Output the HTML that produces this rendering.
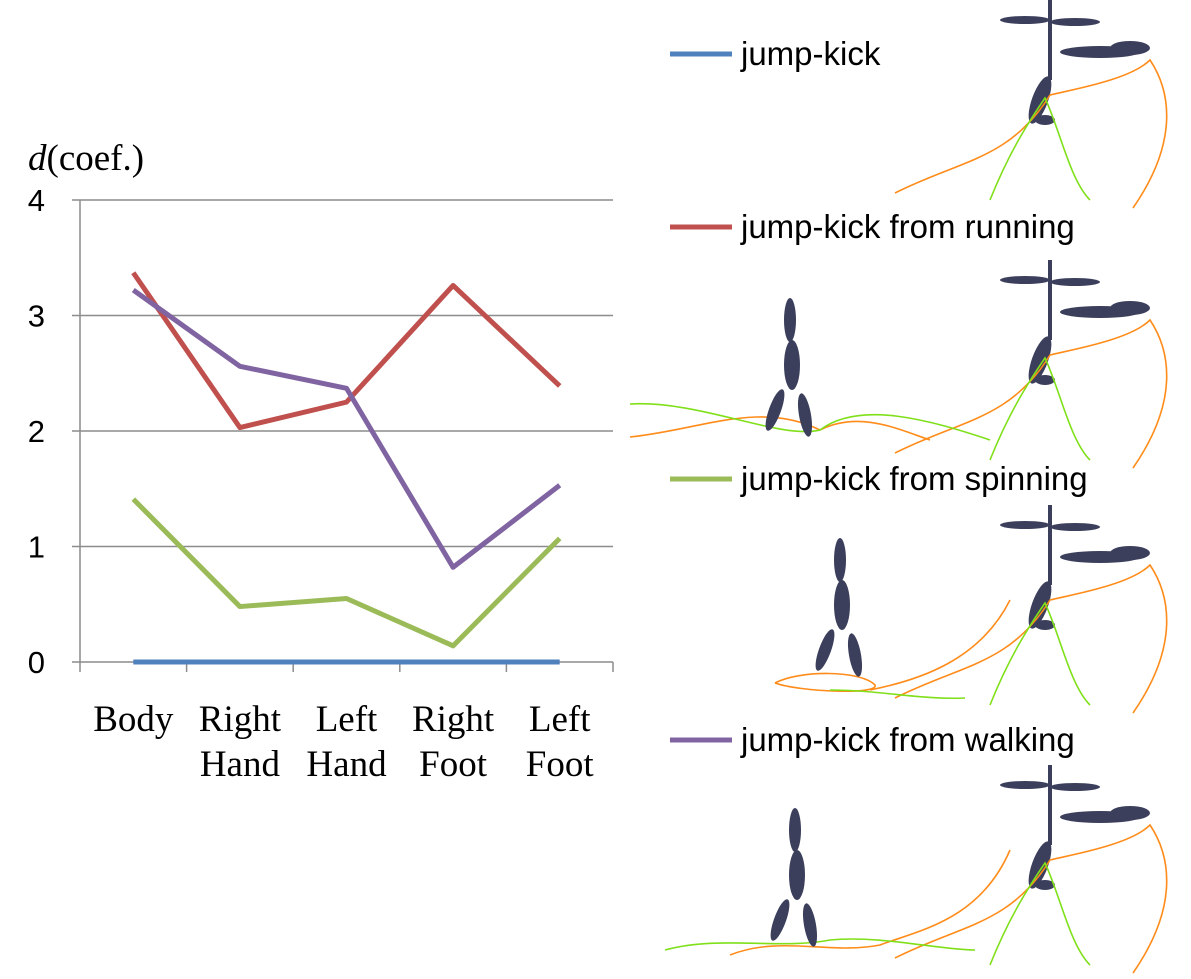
<!DOCTYPE html>
<html><head><meta charset="utf-8"><style>
body{margin:0;background:#fff;width:1191px;height:979px;overflow:hidden}
svg{position:absolute;left:0;top:0}
</style></head><body>
<svg id="chart" width="1191" height="979"></svg>
<script>
const categories=["Body|","Right|Hand","Left|Hand","Right|Foot","Left|Foot"];
const yTicks=[0,1,2,3,4];
const jumpKick=[0,0,0,0,0];
const fromRunning=[3.37,2.03,2.25,3.26,2.39];
const fromSpinning=[1.41,0.48,0.55,0.14,1.07];
const fromWalking=[3.22,2.56,2.37,0.82,1.53];
const seriesNames=["jump-kick","jump-kick from running","jump-kick from spinning","jump-kick from walking"];
const NS="http://www.w3.org/2000/svg";
const svg=document.getElementById('chart');
function mk(t,a,p){const e=document.createElementNS(NS,t);for(const k in a)e.setAttribute(k,a[k]);(p||svg).appendChild(e);return e;}
const x0=80,x1=613,yTop=200,yBot=662,yMax=4;
const bw=(x1-x0)/categories.length;
const xs=i=>x0+bw*(i+0.5);
const ys=v=>yBot-(v/yMax)*(yBot-yTop);
yTicks.forEach(t=>{
 const g=mk('line',{x1:x0-8,x2:x1,y1:ys(t),y2:ys(t),stroke:'#8c8c8c','stroke-width':1.5});
 
 
 const l=mk('text',{x:45,y:ys(t)+11,'text-anchor':'end','font-family':'Liberation Sans, sans-serif','font-size':31,fill:'#000'});
 l.textContent=t;
 
 
});
const ax=mk('line',{x1:x0,x2:x0,y1:yTop,y2:yBot,stroke:'#8c8c8c','stroke-width':1.5});


for(let i=0;i<=categories.length;i++){
 const t=mk('line',{x1:x0+bw*i,x2:x0+bw*i,y1:yBot,y2:yBot+10,stroke:'#8c8c8c','stroke-width':1.5});
 
 
}
categories.forEach((c,i)=>{
 const parts=c.split('|');
 parts.forEach((p,j)=>{
  const t=mk('text',{x:xs(i),y:731+j*45,'text-anchor':'middle','font-family':'Liberation Serif, serif','font-size':37,fill:'#000'});
  t.textContent=p;
  
  
 });
});
const yt=mk('text',{x:28,y:170,'font-family':'Liberation Serif, serif','font-size':37,fill:'#000'});
yt.innerHTML='<tspan font-style="italic">d</tspan>(coef.)';


const series=[[jumpKick,'#4f81bd'],[fromRunning,'#c0504d'],[fromSpinning,'#9bbb59'],[fromWalking,'#8064a2']];
series.forEach(([d,c],k)=>{
 const p=mk('polyline',{points:d.map((v,i)=>xs(i)+','+ys(v)).join(' '),fill:'none',stroke:c,'stroke-width':5,'stroke-linejoin':'round'});
 
 
});
const legY=[54,227,479,740];
series.forEach(([d,c],k)=>{
 const l=mk('line',{x1:670,x2:732,y1:legY[k],y2:legY[k],stroke:c,'stroke-width':5});
 
 
 const t=mk('text',{x:741,y:legY[k]+11,'font-family':'Liberation Sans, sans-serif','font-size':33,fill:'#000'});
 t.textContent=seriesNames[k];
 
 
});
function figure(ox,oy,name){
 const g=mk('g',{transform:'translate('+ox+','+oy+')',fill:'#3c3f5c'});
 
 
 mk('rect',{x:-2,y:-40,width:4,height:80},g);
 mk('ellipse',{cx:-25,cy:-20,rx:25,ry:4},g);
 mk('ellipse',{cx:25,cy:-18,rx:25,ry:4},g);
 mk('ellipse',{cx:50,cy:12,rx:40,ry:6},g);
 mk('ellipse',{cx:80,cy:8,rx:20,ry:7},g);
 mk('ellipse',{cx:-10,cy:60,rx:8,ry:25,transform:'rotate(20 -10 60)'},g);
 mk('ellipse',{cx:-5,cy:80,rx:10,ry:5},g);
}
function curve(d,c,name){const p=mk('path',{d:d,fill:'none',stroke:c,'stroke-width':1.6});}
const offs=[0,260,505,765];
offs.forEach((o,k)=>{
 figure(1050,40+o,'kick-figure-'+k);
 curve('M895 '+(193+o)+' C960 '+(160+o)+' 1010 '+(160+o)+' 1050 '+(95+o)+' C1070 '+(90+o)+' 1130 '+(80+o)+' 1150 '+(60+o)+' C1170 '+(90+o)+' 1180 '+(140+o)+' 1133 '+(208+o),'#ff8c1a','orange-trajectory-'+k);
 curve('M990 '+(200+o)+' C1010 '+(150+o)+' 1030 '+(120+o)+' 1045 '+(98+o)+' C1060 '+(130+o)+' 1070 '+(180+o)+' 1090 '+(200+o),'#7fe01a','green-trajectory-'+k);
});
curve('M630 437 C700 430 760 400 820 430 C860 410 900 430 930 440','#ff8c1a','orange-trail-1');
curve('M630 404 C700 400 780 440 820 430 C860 400 930 420 990 440','#7fe01a','green-trail-1');
curve('M775 683 C800 670 860 670 875 685 C880 695 800 692 775 683 M870 690 C920 680 980 660 1010 600','#ff8c1a','orange-trail-2');
curve('M830 690 C880 690 920 700 965 698','#7fe01a','green-trail-2');
curve('M730 955 C780 935 830 955 880 945 C920 930 980 920 1010 850','#ff8c1a','orange-trail-3');
curve('M665 950 C720 935 780 950 830 940 C880 935 940 950 975 950','#7fe01a','green-trail-3');
[[790,320],[840,560],[795,830]].forEach((p,k)=>{
 const g=mk('g',{transform:'translate('+p[0]+','+p[1]+')',fill:'#3c3f5c'});
 
 
 mk('ellipse',{cx:0,cy:0,rx:6,ry:22},g);
 mk('ellipse',{cx:2,cy:45,rx:8,ry:25},g);
 mk('ellipse',{cx:-15,cy:90,rx:6,ry:22,transform:'rotate(20 -15 90)'},g);
 mk('ellipse',{cx:15,cy:95,rx:6,ry:22,transform:'rotate(-10 15 95)'},g);
});
</script>
</body></html>
